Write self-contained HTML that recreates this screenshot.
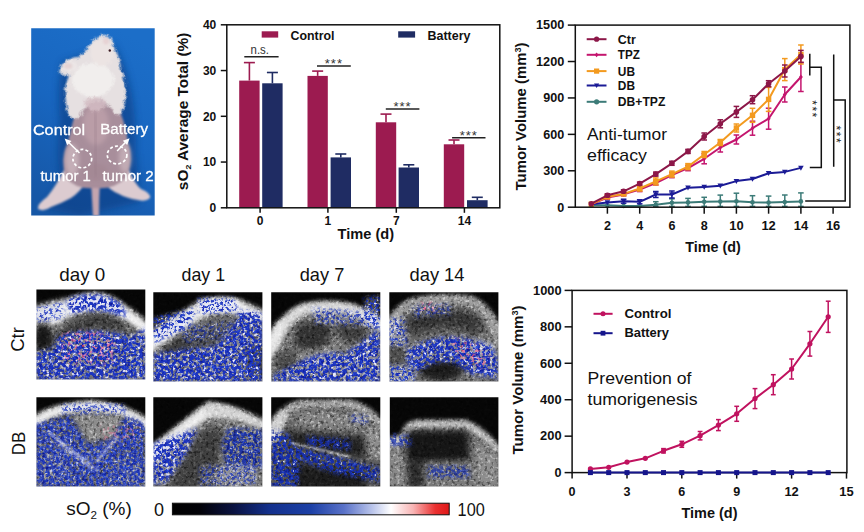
<!DOCTYPE html>
<html><head><meta charset="utf-8"><title>Figure</title>
<style>html,body{margin:0;padding:0;background:#fff}svg{display:block}text{font-family:"Liberation Sans",Arial,sans-serif}</style></head><body>
<svg width="864" height="532" viewBox="0 0 864 532">
<rect width="864" height="532" fill="#fff"/>
<defs>
<filter id="b1" x="-30%" y="-30%" width="160%" height="160%"><feGaussianBlur stdDeviation="1.2"/></filter>
<filter id="b2" x="-30%" y="-30%" width="160%" height="160%"><feGaussianBlur stdDeviation="2.2"/></filter>
<filter id="b3" x="-40%" y="-40%" width="180%" height="180%"><feGaussianBlur stdDeviation="3.5"/></filter>
<filter id="b5" x="-50%" y="-50%" width="200%" height="200%"><feGaussianBlur stdDeviation="5.5"/></filter>
<filter id="spk" x="-15%" y="-15%" width="130%" height="130%" color-interpolation-filters="sRGB">
 <feGaussianBlur in="SourceAlpha" stdDeviation="2.2" result="m"/>
 <feTurbulence type="fractalNoise" baseFrequency="0.3" numOctaves="2" seed="4" result="n"/>
 <feColorMatrix in="n" type="matrix" values="0 0 0 0 0.11  0 0 0 0 0.2  0 0 0 0 0.74  9 0 0 0 -3.7" result="bl0"/>
 <feColorMatrix in="n" type="matrix" values="0 0 0 0 0.92  0 0 0 0 0.92  0 0 0 0 1  0 5 0 0 -2.9" result="wh0"/>
 <feFlood flood-color="#aab2e4" flood-opacity="0.3" result="fl"/>
 <feMerge result="mm0"><feMergeNode in="fl"/><feMergeNode in="bl0"/><feMergeNode in="wh0"/></feMerge>
 <feGaussianBlur in="mm0" stdDeviation="0.5" result="mm"/>
 <feComposite in="mm" in2="m" operator="in"/>
</filter>
<filter id="spk2" x="-15%" y="-15%" width="130%" height="130%" color-interpolation-filters="sRGB">
 <feGaussianBlur in="SourceAlpha" stdDeviation="2.2" result="m"/>
 <feTurbulence type="fractalNoise" baseFrequency="0.34" numOctaves="2" seed="11" result="n"/>
 <feColorMatrix in="n" type="matrix" values="0 0 0 0 0.12  0 0 0 0 0.22  0 0 0 0 0.76  9 0 0 0 -4.3" result="bl0"/>
 <feColorMatrix in="n" type="matrix" values="0 0 0 0 0.92  0 0 0 0 0.92  0 0 0 0 1  0 5 0 0 -2.85" result="wh0"/>
 <feFlood flood-color="#c8cdee" flood-opacity="0.35" result="fl"/>
 <feMerge result="mm0"><feMergeNode in="fl"/><feMergeNode in="bl0"/><feMergeNode in="wh0"/></feMerge>
 <feGaussianBlur in="mm0" stdDeviation="0.5" result="mm"/>
 <feComposite in="mm" in2="m" operator="in"/>
</filter>
<filter id="spk3" x="-15%" y="-15%" width="130%" height="130%" color-interpolation-filters="sRGB">
 <feGaussianBlur in="SourceAlpha" stdDeviation="2" result="m"/>
 <feTurbulence type="fractalNoise" baseFrequency="0.3" numOctaves="2" seed="17" result="n"/>
 <feColorMatrix in="n" type="matrix" values="0 0 0 0 0.09  0 0 0 0 0.18  0 0 0 0 0.66  7 0 0 0 -2.7" result="bl0"/>
 <feColorMatrix in="n" type="matrix" values="0 0 0 0 0.85  0 0 0 0 0.88  0 0 0 0 1  0 5 0 0 -3.3" result="wh0"/>
 <feMerge result="mm0"><feMergeNode in="bl0"/><feMergeNode in="wh0"/></feMerge>
 <feGaussianBlur in="mm0" stdDeviation="0.4" result="mm"/>
 <feComposite in="mm" in2="m" operator="in"/>
</filter>
<filter id="spkp" x="-15%" y="-15%" width="130%" height="130%" color-interpolation-filters="sRGB">
 <feGaussianBlur in="SourceAlpha" stdDeviation="2" result="m"/>
 <feTurbulence type="fractalNoise" baseFrequency="0.28" numOctaves="2" seed="23" result="n"/>
 <feColorMatrix in="n" type="matrix" values="0 0 0 0 0.96  0 0 0 0 0.50  0 0 0 0 0.62  0 0 9 0 -4.9" result="pk0"/>
 <feGaussianBlur in="pk0" stdDeviation="0.4" result="pk"/>
 <feComposite in="pk" in2="m" operator="in"/>
</filter>
<filter id="grain" x="0" y="0" width="100%" height="100%" color-interpolation-filters="sRGB">
 <feTurbulence type="fractalNoise" baseFrequency="0.33" numOctaves="2" seed="8" result="n"/>
 <feColorMatrix in="n" type="matrix" values="0 0 0 0 1  0 0 0 0 1  0 0 0 0 1  4 0 0 0 -2.05" result="w"/>
 <feColorMatrix in="n" type="matrix" values="0 0 0 0 0  0 0 0 0 0  0 0 0 0 0  0 4 0 0 -2.05" result="k"/>
 <feMerge result="mm0"><feMergeNode in="w"/><feMergeNode in="k"/></feMerge>
 <feGaussianBlur in="mm0" stdDeviation="0.4" result="mm"/>
 <feComposite in="mm" in2="SourceAlpha" operator="in"/>
</filter>
</defs>
<g id="photo">
<clipPath id="pc"><rect x="31.2" y="28.2" width="123.5" height="187.3"/></clipPath>
<linearGradient id="pbg" x1="0.7" y1="0" x2="0.3" y2="1"><stop offset="0" stop-color="#1c6ec8"/><stop offset="0.5" stop-color="#1866c0"/><stop offset="1" stop-color="#1657a6"/></linearGradient>
<filter id="pb1" x="-20%" y="-20%" width="140%" height="140%"><feGaussianBlur stdDeviation="1.3"/></filter>
<filter id="pb2" x="-30%" y="-30%" width="160%" height="160%"><feGaussianBlur stdDeviation="3.5"/></filter>
<filter id="pb0" x="-20%" y="-20%" width="140%" height="140%"><feGaussianBlur stdDeviation="0.35"/></filter>
<filter id="fur" x="-20%" y="-20%" width="140%" height="140%"><feGaussianBlur stdDeviation="0.9" result="b"/><feTurbulence type="fractalNoise" baseFrequency="0.22" numOctaves="2" seed="5" result="t"/><feDisplacementMap in="b" in2="t" scale="5" xChannelSelector="R" yChannelSelector="G"/></filter>
<filter id="pb15" x="-30%" y="-30%" width="160%" height="160%"><feGaussianBlur stdDeviation="2.2"/></filter>
<g clip-path="url(#pc)">
<rect x="31" y="28" width="124" height="188" fill="url(#pbg)"/>
<g filter="url(#pb2)" opacity="0.6">
<path d="M62,62 Q56,92 60,122 Q56,150 60,180 L44,208 L80,216 L140,202 L136,150 Q136,110 130,85 Q124,60 114,44 Z" fill="#0d3c82"/>
</g>
<g filter="url(#pb1)">
<path d="M64,170 Q56,186 47,197 Q37,204 38,209 Q44,212 51,207 Q62,203 71,198 Q80,192 86,182 Z" fill="#dccbd0"/>
<path d="M129,170 Q134,183 141,189 Q151,193 150,198 Q146,202 138,200 Q126,198 119,194 Q109,190 104,182 Z" fill="#dccbd0"/>
<path d="M91,180 Q92,200 93,216 L99,216 Q99,198 100,180 Z" fill="#c4a5ae"/>
<path d="M80,100 Q72,122 68,142 Q60,160 66,178 Q76,190 95,188 Q114,190 126,178 Q134,160 128,142 Q125,120 115,100 Z" fill="#a88e9b"/>
</g>
<g filter="url(#pb15)">
<ellipse cx="96" cy="125" rx="13" ry="20" fill="#bb9fa9" opacity="0.9"/>
<ellipse cx="72" cy="160" rx="7" ry="16" fill="#c9b4bc" opacity="0.85"/>
<ellipse cx="125" cy="158" rx="6" ry="15" fill="#c7b0b8" opacity="0.85"/>
<ellipse cx="96" cy="172" rx="12" ry="9" fill="#a48894" opacity="0.8"/>
</g>
<g filter="url(#fur)">
<path d="M105,35 Q111,36 114,46 Q120,58 121,70 Q127,84 125,100 Q123,118 115,114 Q108,100 97,101 Q86,102 79,118 Q69,124 66,104 Q63,86 69,76 Q65,74 60,74 Q58,70 63,64 Q69,57 79,57 Q87,50 92,42 Q98,34 105,35 Z" fill="#e6e0e1"/>
<ellipse cx="93" cy="80" rx="21" ry="17" fill="#f1eeed"/>
<ellipse cx="102" cy="53" rx="11" ry="13" fill="#ece4e3"/>
<ellipse cx="70" cy="66" rx="7" ry="5" fill="#ece6e6"/>
<ellipse cx="95" cy="104" rx="11" ry="7" fill="#d3bcc3" opacity="0.85"/>
</g>
<circle cx="109.8" cy="50.5" r="1.2" fill="#3a1a22"/>
<ellipse cx="68" cy="66" rx="4.5" ry="3" fill="#e2cfd0" opacity="0.8" filter="url(#pb1)"/>
<ellipse cx="106" cy="41" rx="3" ry="3.5" fill="#e6cfd0" opacity="0.8" filter="url(#pb1)"/>
<path d="M95,112 Q96,140 96,176" stroke="#967a88" stroke-width="3" fill="none" opacity="0.5" filter="url(#pb15)"/>
</g>
<g filter="url(#pb0)">
<ellipse cx="82.3" cy="158.6" rx="9.4" ry="9.2" fill="none" stroke="#fff" stroke-width="1.7" stroke-dasharray="3 2.2"/>
<ellipse cx="117.1" cy="155" rx="9.8" ry="8.9" fill="none" stroke="#fff" stroke-width="1.7" stroke-dasharray="3 2.2"/>
<path d="M79.5,153 L67.5,141.3" stroke="#fff" stroke-width="1.5" fill="none"/><path d="M64.6,138.6 L71.5,141 L67.2,145.2Z" fill="#fff"/>
<path d="M117.1,151 L126.8,141" stroke="#fff" stroke-width="1.5" fill="none"/><path d="M129.6,138.2 L127.2,145 L122.8,140.7Z" fill="#fff"/>
<text x="32.9" y="135" font-size="15.5" fill="#fff" stroke="#fff" stroke-width="0.3" textLength="52.3" lengthAdjust="spacingAndGlyphs">Control</text>
<text x="100.2" y="133.6" font-size="15.5" fill="#fff" stroke="#fff" stroke-width="0.3" textLength="47.9" lengthAdjust="spacingAndGlyphs">Battery</text>
<text x="40.4" y="181.1" font-size="15.5" fill="#fff" stroke="#fff" stroke-width="0.3" textLength="50.4" lengthAdjust="spacingAndGlyphs">tumor 1</text>
<text x="102.4" y="181.1" font-size="15.5" fill="#fff" stroke="#fff" stroke-width="0.3" textLength="51.4" lengthAdjust="spacingAndGlyphs">tumor 2</text>
</g>
</g>
<g id="barchart">
<rect x="239.2" y="80.6" width="20.4" height="127.2" fill="#9c1b50"/>
<line x1="249.4" y1="80.6" x2="249.4" y2="62.6" stroke="#9c1b50" stroke-width="1.6" />
<line x1="243.9" y1="62.6" x2="254.9" y2="62.6" stroke="#9c1b50" stroke-width="1.6" />
<rect x="262.2" y="83.3" width="20.4" height="124.5" fill="#1f2c63"/>
<line x1="272.4" y1="83.3" x2="272.4" y2="72.5" stroke="#1f2c63" stroke-width="1.6" />
<line x1="266.9" y1="72.5" x2="277.9" y2="72.5" stroke="#1f2c63" stroke-width="1.6" />
<rect x="307.5" y="75.9" width="20.3" height="131.9" fill="#9c1b50"/>
<line x1="317.65" y1="75.9" x2="317.65" y2="71.1" stroke="#9c1b50" stroke-width="1.6" />
<line x1="312.15" y1="71.1" x2="323.15" y2="71.1" stroke="#9c1b50" stroke-width="1.6" />
<rect x="330.6" y="157.4" width="20.4" height="50.4" fill="#1f2c63"/>
<line x1="340.8" y1="157.4" x2="340.8" y2="154.0" stroke="#1f2c63" stroke-width="1.6" />
<line x1="335.3" y1="154.0" x2="346.3" y2="154.0" stroke="#1f2c63" stroke-width="1.6" />
<rect x="375.8" y="122.3" width="20.4" height="85.5" fill="#9c1b50"/>
<line x1="386.0" y1="122.3" x2="386.0" y2="114.1" stroke="#9c1b50" stroke-width="1.6" />
<line x1="380.5" y1="114.1" x2="391.5" y2="114.1" stroke="#9c1b50" stroke-width="1.6" />
<rect x="398.6" y="167.5" width="20.4" height="40.3" fill="#1f2c63"/>
<line x1="408.8" y1="167.5" x2="408.8" y2="164.8" stroke="#1f2c63" stroke-width="1.6" />
<line x1="403.3" y1="164.8" x2="414.3" y2="164.8" stroke="#1f2c63" stroke-width="1.6" />
<rect x="443.8" y="144.3" width="20.4" height="63.5" fill="#9c1b50"/>
<line x1="454.0" y1="144.3" x2="454.0" y2="140.0" stroke="#9c1b50" stroke-width="1.6" />
<line x1="448.5" y1="140.0" x2="459.5" y2="140.0" stroke="#9c1b50" stroke-width="1.6" />
<rect x="467.0" y="200.2" width="20.6" height="7.6" fill="#1f2c63"/>
<line x1="477.3" y1="200.2" x2="477.3" y2="197.3" stroke="#1f2c63" stroke-width="1.6" />
<line x1="471.8" y1="197.3" x2="482.8" y2="197.3" stroke="#1f2c63" stroke-width="1.6" />
<rect x="226.8" y="24.8" width="273.0" height="183.0" fill="none" stroke="#111" stroke-width="1.5"/>
<line x1="220.8" y1="207.8" x2="226.8" y2="207.8" stroke="#111" stroke-width="1.5" />
<text x="216.3" y="212.10000000000002" font-size="12" font-weight="bold" text-anchor="end" fill="#111" >0</text>
<line x1="220.8" y1="162.05" x2="226.8" y2="162.05" stroke="#111" stroke-width="1.5" />
<text x="216.3" y="166.35000000000002" font-size="12" font-weight="bold" text-anchor="end" fill="#111" >10</text>
<line x1="220.8" y1="116.30000000000001" x2="226.8" y2="116.30000000000001" stroke="#111" stroke-width="1.5" />
<text x="216.3" y="120.60000000000001" font-size="12" font-weight="bold" text-anchor="end" fill="#111" >20</text>
<line x1="220.8" y1="70.55000000000001" x2="226.8" y2="70.55000000000001" stroke="#111" stroke-width="1.5" />
<text x="216.3" y="74.85000000000001" font-size="12" font-weight="bold" text-anchor="end" fill="#111" >30</text>
<line x1="220.8" y1="24.80000000000001" x2="226.8" y2="24.80000000000001" stroke="#111" stroke-width="1.5" />
<text x="216.3" y="29.100000000000012" font-size="12" font-weight="bold" text-anchor="end" fill="#111" >40</text>
<line x1="260.1" y1="207.8" x2="260.1" y2="212.8" stroke="#111" stroke-width="1.5" />
<text x="260.1" y="224.7" font-size="12" font-weight="bold" text-anchor="middle" fill="#111" >0</text>
<line x1="327.9" y1="207.8" x2="327.9" y2="212.8" stroke="#111" stroke-width="1.5" />
<text x="327.9" y="224.7" font-size="12" font-weight="bold" text-anchor="middle" fill="#111" >1</text>
<line x1="396.3" y1="207.8" x2="396.3" y2="212.8" stroke="#111" stroke-width="1.5" />
<text x="396.3" y="224.7" font-size="12" font-weight="bold" text-anchor="middle" fill="#111" >7</text>
<line x1="464.4" y1="207.8" x2="464.4" y2="212.8" stroke="#111" stroke-width="1.5" />
<text x="464.4" y="224.7" font-size="12" font-weight="bold" text-anchor="middle" fill="#111" >14</text>
<text x="365.8" y="238.9" font-size="14.5" font-weight="bold" text-anchor="middle" fill="#111" textLength="56.5" lengthAdjust="spacingAndGlyphs" >Time (d)</text>
<text transform="translate(188.2,111.4) rotate(-90)" font-size="14" font-weight="bold" text-anchor="middle" fill="#111" textLength="157.5" lengthAdjust="spacingAndGlyphs">sO<tspan font-size="8" dy="3">2</tspan><tspan dy="-3"> Average Total (%)</tspan></text>
<rect x="261.7" y="31.3" width="16.5" height="6.3" fill="#9c1b50"/>
<text x="290.5" y="39.6" font-size="12" font-weight="bold" text-anchor="start" fill="#111" textLength="44" lengthAdjust="spacingAndGlyphs" >Control</text>
<rect x="398.2" y="31.3" width="16.9" height="6.3" fill="#1f2c63"/>
<text x="427.5" y="39.6" font-size="12" font-weight="bold" text-anchor="start" fill="#111" textLength="43" lengthAdjust="spacingAndGlyphs" >Battery</text>
<line x1="244.3" y1="56.7" x2="278.6" y2="56.7" stroke="#222" stroke-width="1.5" />
<text x="259.8" y="53.5" font-size="12.5"  text-anchor="middle" fill="#333" textLength="18.4" lengthAdjust="spacingAndGlyphs" >n.s.</text>
<line x1="317" y1="66.0" x2="350.8" y2="66.0" stroke="#222" stroke-width="1.5" />
<text x="333.9" y="67.9" font-size="13" text-anchor="middle" fill="#333" letter-spacing="1">***</text>
<line x1="385.8" y1="109.0" x2="419.4" y2="109.0" stroke="#222" stroke-width="1.5" />
<text x="402.6" y="110.9" font-size="13" text-anchor="middle" fill="#333" letter-spacing="1">***</text>
<line x1="452.1" y1="137.7" x2="485.5" y2="137.7" stroke="#222" stroke-width="1.5" />
<text x="468.8" y="139.6" font-size="13" text-anchor="middle" fill="#333" letter-spacing="1">***</text>
</g>
<g id="line1">
<line x1="655.8" y1="201.7" x2="655.8" y2="206.4" stroke="#3c7b78" stroke-width="1.5" />
<line x1="653.0" y1="201.7" x2="658.6" y2="201.7" stroke="#3c7b78" stroke-width="1.5" />
<line x1="653.0" y1="206.4" x2="658.6" y2="206.4" stroke="#3c7b78" stroke-width="1.5" />
<line x1="671.9" y1="198.8" x2="671.9" y2="206.4" stroke="#3c7b78" stroke-width="1.5" />
<line x1="669.1" y1="198.8" x2="674.7" y2="198.8" stroke="#3c7b78" stroke-width="1.5" />
<line x1="669.1" y1="206.4" x2="674.7" y2="206.4" stroke="#3c7b78" stroke-width="1.5" />
<line x1="688.0" y1="198.4" x2="688.0" y2="206.4" stroke="#3c7b78" stroke-width="1.5" />
<line x1="685.2" y1="198.4" x2="690.8" y2="198.4" stroke="#3c7b78" stroke-width="1.5" />
<line x1="685.2" y1="206.4" x2="690.8" y2="206.4" stroke="#3c7b78" stroke-width="1.5" />
<line x1="704.2" y1="197.3" x2="704.2" y2="206.3" stroke="#3c7b78" stroke-width="1.5" />
<line x1="701.4" y1="197.3" x2="707.0" y2="197.3" stroke="#3c7b78" stroke-width="1.5" />
<line x1="701.4" y1="206.3" x2="707.0" y2="206.3" stroke="#3c7b78" stroke-width="1.5" />
<line x1="720.3" y1="195.1" x2="720.3" y2="206.4" stroke="#3c7b78" stroke-width="1.5" />
<line x1="717.5" y1="195.1" x2="723.1" y2="195.1" stroke="#3c7b78" stroke-width="1.5" />
<line x1="717.5" y1="206.4" x2="723.1" y2="206.4" stroke="#3c7b78" stroke-width="1.5" />
<line x1="736.4" y1="193.2" x2="736.4" y2="206.4" stroke="#3c7b78" stroke-width="1.5" />
<line x1="733.6" y1="193.2" x2="739.2" y2="193.2" stroke="#3c7b78" stroke-width="1.5" />
<line x1="733.6" y1="206.4" x2="739.2" y2="206.4" stroke="#3c7b78" stroke-width="1.5" />
<line x1="752.5" y1="195.7" x2="752.5" y2="206.4" stroke="#3c7b78" stroke-width="1.5" />
<line x1="749.7" y1="195.7" x2="755.3" y2="195.7" stroke="#3c7b78" stroke-width="1.5" />
<line x1="749.7" y1="206.4" x2="755.3" y2="206.4" stroke="#3c7b78" stroke-width="1.5" />
<line x1="768.6" y1="196.1" x2="768.6" y2="206.4" stroke="#3c7b78" stroke-width="1.5" />
<line x1="765.8" y1="196.1" x2="771.4" y2="196.1" stroke="#3c7b78" stroke-width="1.5" />
<line x1="765.8" y1="206.4" x2="771.4" y2="206.4" stroke="#3c7b78" stroke-width="1.5" />
<line x1="784.8" y1="195.0" x2="784.8" y2="206.4" stroke="#3c7b78" stroke-width="1.5" />
<line x1="782.0" y1="195.0" x2="787.6" y2="195.0" stroke="#3c7b78" stroke-width="1.5" />
<line x1="782.0" y1="206.4" x2="787.6" y2="206.4" stroke="#3c7b78" stroke-width="1.5" />
<line x1="800.9" y1="192.9" x2="800.9" y2="206.4" stroke="#3c7b78" stroke-width="1.5" />
<line x1="798.1" y1="192.9" x2="803.7" y2="192.9" stroke="#3c7b78" stroke-width="1.5" />
<line x1="798.1" y1="206.4" x2="803.7" y2="206.4" stroke="#3c7b78" stroke-width="1.5" />
<polyline points="591.3,205.3 607.4,205.3 623.6,206.0 639.7,206.0 655.8,204.7 671.9,202.8 688.0,202.4 704.2,201.8 720.3,201.6 736.4,201.2 752.5,202.2 768.6,202.6 784.8,202.0 800.9,201.4" fill="none" stroke="#3c7b78" stroke-width="2.0" stroke-linejoin="round"/>
<circle cx="591.3" cy="205.3" r="2.3" fill="#3c7b78"/>
<circle cx="607.4" cy="205.3" r="2.3" fill="#3c7b78"/>
<circle cx="623.6" cy="206.0" r="2.3" fill="#3c7b78"/>
<circle cx="639.7" cy="206.0" r="2.3" fill="#3c7b78"/>
<circle cx="655.8" cy="204.7" r="2.3" fill="#3c7b78"/>
<circle cx="671.9" cy="202.8" r="2.3" fill="#3c7b78"/>
<circle cx="688.0" cy="202.4" r="2.3" fill="#3c7b78"/>
<circle cx="704.2" cy="201.8" r="2.3" fill="#3c7b78"/>
<circle cx="720.3" cy="201.6" r="2.3" fill="#3c7b78"/>
<circle cx="736.4" cy="201.2" r="2.3" fill="#3c7b78"/>
<circle cx="752.5" cy="202.2" r="2.3" fill="#3c7b78"/>
<circle cx="768.6" cy="202.6" r="2.3" fill="#3c7b78"/>
<circle cx="784.8" cy="202.0" r="2.3" fill="#3c7b78"/>
<circle cx="800.9" cy="201.4" r="2.3" fill="#3c7b78"/>
<line x1="623.6" y1="199.2" x2="623.6" y2="203.2" stroke="#1b1b96" stroke-width="1.5" />
<line x1="620.8" y1="199.2" x2="626.4" y2="199.2" stroke="#1b1b96" stroke-width="1.5" />
<line x1="620.8" y1="203.2" x2="626.4" y2="203.2" stroke="#1b1b96" stroke-width="1.5" />
<line x1="639.7" y1="199.8" x2="639.7" y2="203.8" stroke="#1b1b96" stroke-width="1.5" />
<line x1="636.9" y1="199.8" x2="642.5" y2="199.8" stroke="#1b1b96" stroke-width="1.5" />
<line x1="636.9" y1="203.8" x2="642.5" y2="203.8" stroke="#1b1b96" stroke-width="1.5" />
<line x1="655.8" y1="191.5" x2="655.8" y2="197.5" stroke="#1b1b96" stroke-width="1.5" />
<line x1="653.0" y1="191.5" x2="658.6" y2="191.5" stroke="#1b1b96" stroke-width="1.5" />
<line x1="653.0" y1="197.5" x2="658.6" y2="197.5" stroke="#1b1b96" stroke-width="1.5" />
<line x1="671.9" y1="191.0" x2="671.9" y2="198.0" stroke="#1b1b96" stroke-width="1.5" />
<line x1="669.1" y1="191.0" x2="674.7" y2="191.0" stroke="#1b1b96" stroke-width="1.5" />
<line x1="669.1" y1="198.0" x2="674.7" y2="198.0" stroke="#1b1b96" stroke-width="1.5" />
<polyline points="591.3,204.3 607.4,202.4 623.6,201.2 639.7,201.8 655.8,194.5 671.9,194.5 688.0,187.7 704.2,186.9 720.3,185.8 736.4,181.1 752.5,179.0 768.6,173.2 784.8,171.9 800.9,167.9" fill="none" stroke="#1b1b96" stroke-width="2.0" stroke-linejoin="round"/>
<path d="M588.5,202.1 L594.1,202.1 L591.3,207.1Z" fill="#1b1b96"/>
<path d="M604.6,200.2 L610.2,200.2 L607.4,205.2Z" fill="#1b1b96"/>
<path d="M620.8,199.0 L626.4,199.0 L623.6,204.0Z" fill="#1b1b96"/>
<path d="M636.9,199.6 L642.5,199.6 L639.7,204.6Z" fill="#1b1b96"/>
<path d="M653.0,192.3 L658.6,192.3 L655.8,197.3Z" fill="#1b1b96"/>
<path d="M669.1,192.3 L674.7,192.3 L671.9,197.3Z" fill="#1b1b96"/>
<path d="M685.2,185.5 L690.8,185.5 L688.0,190.5Z" fill="#1b1b96"/>
<path d="M701.4,184.7 L707.0,184.7 L704.2,189.7Z" fill="#1b1b96"/>
<path d="M717.5,183.6 L723.1,183.6 L720.3,188.6Z" fill="#1b1b96"/>
<path d="M733.6,178.9 L739.2,178.9 L736.4,183.9Z" fill="#1b1b96"/>
<path d="M749.7,176.8 L755.3,176.8 L752.5,181.8Z" fill="#1b1b96"/>
<path d="M765.8,171.0 L771.4,171.0 L768.6,176.0Z" fill="#1b1b96"/>
<path d="M782.0,169.7 L787.6,169.7 L784.8,174.7Z" fill="#1b1b96"/>
<path d="M798.1,165.7 L803.7,165.7 L800.9,170.7Z" fill="#1b1b96"/>
<line x1="607.4" y1="196.1" x2="607.4" y2="199.1" stroke="#c4156e" stroke-width="1.5" />
<line x1="604.6" y1="196.1" x2="610.2" y2="196.1" stroke="#c4156e" stroke-width="1.5" />
<line x1="604.6" y1="199.1" x2="610.2" y2="199.1" stroke="#c4156e" stroke-width="1.5" />
<line x1="623.6" y1="192.9" x2="623.6" y2="195.9" stroke="#c4156e" stroke-width="1.5" />
<line x1="620.8" y1="192.9" x2="626.4" y2="192.9" stroke="#c4156e" stroke-width="1.5" />
<line x1="620.8" y1="195.9" x2="626.4" y2="195.9" stroke="#c4156e" stroke-width="1.5" />
<line x1="639.7" y1="187.6" x2="639.7" y2="191.6" stroke="#c4156e" stroke-width="1.5" />
<line x1="636.9" y1="187.6" x2="642.5" y2="187.6" stroke="#c4156e" stroke-width="1.5" />
<line x1="636.9" y1="191.6" x2="642.5" y2="191.6" stroke="#c4156e" stroke-width="1.5" />
<line x1="655.8" y1="181.0" x2="655.8" y2="185.0" stroke="#c4156e" stroke-width="1.5" />
<line x1="653.0" y1="181.0" x2="658.6" y2="181.0" stroke="#c4156e" stroke-width="1.5" />
<line x1="653.0" y1="185.0" x2="658.6" y2="185.0" stroke="#c4156e" stroke-width="1.5" />
<line x1="671.9" y1="172.7" x2="671.9" y2="177.7" stroke="#c4156e" stroke-width="1.5" />
<line x1="669.1" y1="172.7" x2="674.7" y2="172.7" stroke="#c4156e" stroke-width="1.5" />
<line x1="669.1" y1="177.7" x2="674.7" y2="177.7" stroke="#c4156e" stroke-width="1.5" />
<line x1="688.0" y1="165.7" x2="688.0" y2="170.7" stroke="#c4156e" stroke-width="1.5" />
<line x1="685.2" y1="165.7" x2="690.8" y2="165.7" stroke="#c4156e" stroke-width="1.5" />
<line x1="685.2" y1="170.7" x2="690.8" y2="170.7" stroke="#c4156e" stroke-width="1.5" />
<line x1="704.2" y1="153.8" x2="704.2" y2="163.8" stroke="#c4156e" stroke-width="1.5" />
<line x1="701.4" y1="153.8" x2="707.0" y2="153.8" stroke="#c4156e" stroke-width="1.5" />
<line x1="701.4" y1="163.8" x2="707.0" y2="163.8" stroke="#c4156e" stroke-width="1.5" />
<line x1="720.3" y1="143.0" x2="720.3" y2="152.0" stroke="#c4156e" stroke-width="1.5" />
<line x1="717.5" y1="143.0" x2="723.1" y2="143.0" stroke="#c4156e" stroke-width="1.5" />
<line x1="717.5" y1="152.0" x2="723.1" y2="152.0" stroke="#c4156e" stroke-width="1.5" />
<line x1="736.4" y1="135.0" x2="736.4" y2="144.0" stroke="#c4156e" stroke-width="1.5" />
<line x1="733.6" y1="135.0" x2="739.2" y2="135.0" stroke="#c4156e" stroke-width="1.5" />
<line x1="733.6" y1="144.0" x2="739.2" y2="144.0" stroke="#c4156e" stroke-width="1.5" />
<line x1="752.5" y1="121.2" x2="752.5" y2="135.2" stroke="#c4156e" stroke-width="1.5" />
<line x1="749.7" y1="121.2" x2="755.3" y2="121.2" stroke="#c4156e" stroke-width="1.5" />
<line x1="749.7" y1="135.2" x2="755.3" y2="135.2" stroke="#c4156e" stroke-width="1.5" />
<line x1="768.6" y1="108.2" x2="768.6" y2="129.2" stroke="#c4156e" stroke-width="1.5" />
<line x1="765.8" y1="108.2" x2="771.4" y2="108.2" stroke="#c4156e" stroke-width="1.5" />
<line x1="765.8" y1="129.2" x2="771.4" y2="129.2" stroke="#c4156e" stroke-width="1.5" />
<line x1="784.8" y1="87.0" x2="784.8" y2="102.0" stroke="#c4156e" stroke-width="1.5" />
<line x1="782.0" y1="87.0" x2="787.6" y2="87.0" stroke="#c4156e" stroke-width="1.5" />
<line x1="782.0" y1="102.0" x2="787.6" y2="102.0" stroke="#c4156e" stroke-width="1.5" />
<line x1="800.9" y1="62.5" x2="800.9" y2="91.5" stroke="#c4156e" stroke-width="1.5" />
<line x1="798.1" y1="62.5" x2="803.7" y2="62.5" stroke="#c4156e" stroke-width="1.5" />
<line x1="798.1" y1="91.5" x2="803.7" y2="91.5" stroke="#c4156e" stroke-width="1.5" />
<polyline points="591.3,204.4 607.4,197.6 623.6,194.4 639.7,189.6 655.8,183.0 671.9,175.2 688.0,168.2 704.2,158.8 720.3,147.5 736.4,139.5 752.5,128.2 768.6,118.7 784.8,94.5 800.9,77.0" fill="none" stroke="#c4156e" stroke-width="2.0" stroke-linejoin="round"/>
<path d="M591.3,202.0 L593.2,204.4 L591.3,206.8 L589.4,204.4Z" fill="#c4156e"/>
<path d="M607.4,195.2 L609.4,197.6 L607.4,200.0 L605.5,197.6Z" fill="#c4156e"/>
<path d="M623.6,192.0 L625.5,194.4 L623.6,196.8 L621.6,194.4Z" fill="#c4156e"/>
<path d="M639.7,187.2 L641.6,189.6 L639.7,192.0 L637.8,189.6Z" fill="#c4156e"/>
<path d="M655.8,180.6 L657.7,183.0 L655.8,185.4 L653.9,183.0Z" fill="#c4156e"/>
<path d="M671.9,172.8 L673.8,175.2 L671.9,177.6 L670.0,175.2Z" fill="#c4156e"/>
<path d="M688.0,165.8 L690.0,168.2 L688.0,170.6 L686.1,168.2Z" fill="#c4156e"/>
<path d="M704.2,156.4 L706.1,158.8 L704.2,161.2 L702.2,158.8Z" fill="#c4156e"/>
<path d="M720.3,145.1 L722.2,147.5 L720.3,149.9 L718.4,147.5Z" fill="#c4156e"/>
<path d="M736.4,137.1 L738.3,139.5 L736.4,141.9 L734.5,139.5Z" fill="#c4156e"/>
<path d="M752.5,125.8 L754.4,128.2 L752.5,130.6 L750.6,128.2Z" fill="#c4156e"/>
<path d="M768.6,116.3 L770.6,118.7 L768.6,121.1 L766.7,118.7Z" fill="#c4156e"/>
<path d="M784.8,92.1 L786.7,94.5 L784.8,96.9 L782.8,94.5Z" fill="#c4156e"/>
<path d="M800.9,74.6 L802.8,77.0 L800.9,79.4 L799.0,77.0Z" fill="#c4156e"/>
<line x1="607.4" y1="195.3" x2="607.4" y2="198.3" stroke="#f39a1f" stroke-width="1.5" />
<line x1="604.6" y1="195.3" x2="610.2" y2="195.3" stroke="#f39a1f" stroke-width="1.5" />
<line x1="604.6" y1="198.3" x2="610.2" y2="198.3" stroke="#f39a1f" stroke-width="1.5" />
<line x1="623.6" y1="192.4" x2="623.6" y2="195.4" stroke="#f39a1f" stroke-width="1.5" />
<line x1="620.8" y1="192.4" x2="626.4" y2="192.4" stroke="#f39a1f" stroke-width="1.5" />
<line x1="620.8" y1="195.4" x2="626.4" y2="195.4" stroke="#f39a1f" stroke-width="1.5" />
<line x1="639.7" y1="186.0" x2="639.7" y2="191.0" stroke="#f39a1f" stroke-width="1.5" />
<line x1="636.9" y1="186.0" x2="642.5" y2="186.0" stroke="#f39a1f" stroke-width="1.5" />
<line x1="636.9" y1="191.0" x2="642.5" y2="191.0" stroke="#f39a1f" stroke-width="1.5" />
<line x1="655.8" y1="177.9" x2="655.8" y2="184.9" stroke="#f39a1f" stroke-width="1.5" />
<line x1="653.0" y1="177.9" x2="658.6" y2="177.9" stroke="#f39a1f" stroke-width="1.5" />
<line x1="653.0" y1="184.9" x2="658.6" y2="184.9" stroke="#f39a1f" stroke-width="1.5" />
<line x1="671.9" y1="171.1" x2="671.9" y2="177.1" stroke="#f39a1f" stroke-width="1.5" />
<line x1="669.1" y1="171.1" x2="674.7" y2="171.1" stroke="#f39a1f" stroke-width="1.5" />
<line x1="669.1" y1="177.1" x2="674.7" y2="177.1" stroke="#f39a1f" stroke-width="1.5" />
<line x1="688.0" y1="163.6" x2="688.0" y2="169.6" stroke="#f39a1f" stroke-width="1.5" />
<line x1="685.2" y1="163.6" x2="690.8" y2="163.6" stroke="#f39a1f" stroke-width="1.5" />
<line x1="685.2" y1="169.6" x2="690.8" y2="169.6" stroke="#f39a1f" stroke-width="1.5" />
<line x1="704.2" y1="151.5" x2="704.2" y2="157.5" stroke="#f39a1f" stroke-width="1.5" />
<line x1="701.4" y1="151.5" x2="707.0" y2="151.5" stroke="#f39a1f" stroke-width="1.5" />
<line x1="701.4" y1="157.5" x2="707.0" y2="157.5" stroke="#f39a1f" stroke-width="1.5" />
<line x1="720.3" y1="139.5" x2="720.3" y2="145.5" stroke="#f39a1f" stroke-width="1.5" />
<line x1="717.5" y1="139.5" x2="723.1" y2="139.5" stroke="#f39a1f" stroke-width="1.5" />
<line x1="717.5" y1="145.5" x2="723.1" y2="145.5" stroke="#f39a1f" stroke-width="1.5" />
<line x1="736.4" y1="124.0" x2="736.4" y2="132.0" stroke="#f39a1f" stroke-width="1.5" />
<line x1="733.6" y1="124.0" x2="739.2" y2="124.0" stroke="#f39a1f" stroke-width="1.5" />
<line x1="733.6" y1="132.0" x2="739.2" y2="132.0" stroke="#f39a1f" stroke-width="1.5" />
<line x1="752.5" y1="108.3" x2="752.5" y2="122.3" stroke="#f39a1f" stroke-width="1.5" />
<line x1="749.7" y1="108.3" x2="755.3" y2="108.3" stroke="#f39a1f" stroke-width="1.5" />
<line x1="749.7" y1="122.3" x2="755.3" y2="122.3" stroke="#f39a1f" stroke-width="1.5" />
<line x1="768.6" y1="87.4" x2="768.6" y2="111.4" stroke="#f39a1f" stroke-width="1.5" />
<line x1="765.8" y1="87.4" x2="771.4" y2="87.4" stroke="#f39a1f" stroke-width="1.5" />
<line x1="765.8" y1="111.4" x2="771.4" y2="111.4" stroke="#f39a1f" stroke-width="1.5" />
<line x1="784.8" y1="58.6" x2="784.8" y2="80.6" stroke="#f39a1f" stroke-width="1.5" />
<line x1="782.0" y1="58.6" x2="787.6" y2="58.6" stroke="#f39a1f" stroke-width="1.5" />
<line x1="782.0" y1="80.6" x2="787.6" y2="80.6" stroke="#f39a1f" stroke-width="1.5" />
<line x1="800.9" y1="45.0" x2="800.9" y2="64.0" stroke="#f39a1f" stroke-width="1.5" />
<line x1="798.1" y1="45.0" x2="803.7" y2="45.0" stroke="#f39a1f" stroke-width="1.5" />
<line x1="798.1" y1="64.0" x2="803.7" y2="64.0" stroke="#f39a1f" stroke-width="1.5" />
<polyline points="591.3,204.2 607.4,196.8 623.6,193.9 639.7,188.5 655.8,181.4 671.9,174.1 688.0,166.6 704.2,154.5 720.3,142.5 736.4,128.0 752.5,115.3 768.6,99.4 784.8,69.6 800.9,54.5" fill="none" stroke="#f39a1f" stroke-width="2.0" stroke-linejoin="round"/>
<rect x="588.6" y="201.5" width="5.4" height="5.4" fill="#f39a1f"/>
<rect x="604.7" y="194.1" width="5.4" height="5.4" fill="#f39a1f"/>
<rect x="620.9" y="191.2" width="5.4" height="5.4" fill="#f39a1f"/>
<rect x="637.0" y="185.8" width="5.4" height="5.4" fill="#f39a1f"/>
<rect x="653.1" y="178.7" width="5.4" height="5.4" fill="#f39a1f"/>
<rect x="669.2" y="171.4" width="5.4" height="5.4" fill="#f39a1f"/>
<rect x="685.3" y="163.9" width="5.4" height="5.4" fill="#f39a1f"/>
<rect x="701.5" y="151.8" width="5.4" height="5.4" fill="#f39a1f"/>
<rect x="717.6" y="139.8" width="5.4" height="5.4" fill="#f39a1f"/>
<rect x="733.7" y="125.3" width="5.4" height="5.4" fill="#f39a1f"/>
<rect x="749.8" y="112.6" width="5.4" height="5.4" fill="#f39a1f"/>
<rect x="765.9" y="96.7" width="5.4" height="5.4" fill="#f39a1f"/>
<rect x="782.1" y="66.9" width="5.4" height="5.4" fill="#f39a1f"/>
<rect x="798.2" y="51.8" width="5.4" height="5.4" fill="#f39a1f"/>
<line x1="607.4" y1="193.8" x2="607.4" y2="196.8" stroke="#8c1748" stroke-width="1.5" />
<line x1="604.6" y1="193.8" x2="610.2" y2="193.8" stroke="#8c1748" stroke-width="1.5" />
<line x1="604.6" y1="196.8" x2="610.2" y2="196.8" stroke="#8c1748" stroke-width="1.5" />
<line x1="623.6" y1="189.8" x2="623.6" y2="192.8" stroke="#8c1748" stroke-width="1.5" />
<line x1="620.8" y1="189.8" x2="626.4" y2="189.8" stroke="#8c1748" stroke-width="1.5" />
<line x1="620.8" y1="192.8" x2="626.4" y2="192.8" stroke="#8c1748" stroke-width="1.5" />
<line x1="639.7" y1="182.1" x2="639.7" y2="185.1" stroke="#8c1748" stroke-width="1.5" />
<line x1="636.9" y1="182.1" x2="642.5" y2="182.1" stroke="#8c1748" stroke-width="1.5" />
<line x1="636.9" y1="185.1" x2="642.5" y2="185.1" stroke="#8c1748" stroke-width="1.5" />
<line x1="655.8" y1="172.1" x2="655.8" y2="176.1" stroke="#8c1748" stroke-width="1.5" />
<line x1="653.0" y1="172.1" x2="658.6" y2="172.1" stroke="#8c1748" stroke-width="1.5" />
<line x1="653.0" y1="176.1" x2="658.6" y2="176.1" stroke="#8c1748" stroke-width="1.5" />
<line x1="671.9" y1="161.3" x2="671.9" y2="165.3" stroke="#8c1748" stroke-width="1.5" />
<line x1="669.1" y1="161.3" x2="674.7" y2="161.3" stroke="#8c1748" stroke-width="1.5" />
<line x1="669.1" y1="165.3" x2="674.7" y2="165.3" stroke="#8c1748" stroke-width="1.5" />
<line x1="688.0" y1="149.4" x2="688.0" y2="153.4" stroke="#8c1748" stroke-width="1.5" />
<line x1="685.2" y1="149.4" x2="690.8" y2="149.4" stroke="#8c1748" stroke-width="1.5" />
<line x1="685.2" y1="153.4" x2="690.8" y2="153.4" stroke="#8c1748" stroke-width="1.5" />
<line x1="704.2" y1="133.0" x2="704.2" y2="140.0" stroke="#8c1748" stroke-width="1.5" />
<line x1="701.4" y1="133.0" x2="707.0" y2="133.0" stroke="#8c1748" stroke-width="1.5" />
<line x1="701.4" y1="140.0" x2="707.0" y2="140.0" stroke="#8c1748" stroke-width="1.5" />
<line x1="720.3" y1="119.8" x2="720.3" y2="127.8" stroke="#8c1748" stroke-width="1.5" />
<line x1="717.5" y1="119.8" x2="723.1" y2="119.8" stroke="#8c1748" stroke-width="1.5" />
<line x1="717.5" y1="127.8" x2="723.1" y2="127.8" stroke="#8c1748" stroke-width="1.5" />
<line x1="736.4" y1="106.4" x2="736.4" y2="117.4" stroke="#8c1748" stroke-width="1.5" />
<line x1="733.6" y1="106.4" x2="739.2" y2="106.4" stroke="#8c1748" stroke-width="1.5" />
<line x1="733.6" y1="117.4" x2="739.2" y2="117.4" stroke="#8c1748" stroke-width="1.5" />
<line x1="752.5" y1="95.7" x2="752.5" y2="103.7" stroke="#8c1748" stroke-width="1.5" />
<line x1="749.7" y1="95.7" x2="755.3" y2="95.7" stroke="#8c1748" stroke-width="1.5" />
<line x1="749.7" y1="103.7" x2="755.3" y2="103.7" stroke="#8c1748" stroke-width="1.5" />
<line x1="768.6" y1="80.7" x2="768.6" y2="86.7" stroke="#8c1748" stroke-width="1.5" />
<line x1="765.8" y1="80.7" x2="771.4" y2="80.7" stroke="#8c1748" stroke-width="1.5" />
<line x1="765.8" y1="86.7" x2="771.4" y2="86.7" stroke="#8c1748" stroke-width="1.5" />
<line x1="784.8" y1="65.0" x2="784.8" y2="77.0" stroke="#8c1748" stroke-width="1.5" />
<line x1="782.0" y1="65.0" x2="787.6" y2="65.0" stroke="#8c1748" stroke-width="1.5" />
<line x1="782.0" y1="77.0" x2="787.6" y2="77.0" stroke="#8c1748" stroke-width="1.5" />
<line x1="800.9" y1="50.4" x2="800.9" y2="62.4" stroke="#8c1748" stroke-width="1.5" />
<line x1="798.1" y1="50.4" x2="803.7" y2="50.4" stroke="#8c1748" stroke-width="1.5" />
<line x1="798.1" y1="62.4" x2="803.7" y2="62.4" stroke="#8c1748" stroke-width="1.5" />
<polyline points="591.3,203.7 607.4,195.3 623.6,191.3 639.7,183.6 655.8,174.1 671.9,163.3 688.0,151.4 704.2,136.5 720.3,123.8 736.4,111.9 752.5,99.7 768.6,83.7 784.8,71.0 800.9,56.4" fill="none" stroke="#8c1748" stroke-width="2.0" stroke-linejoin="round"/>
<circle cx="591.3" cy="203.7" r="2.8" fill="#8c1748"/>
<circle cx="607.4" cy="195.3" r="2.8" fill="#8c1748"/>
<circle cx="623.6" cy="191.3" r="2.8" fill="#8c1748"/>
<circle cx="639.7" cy="183.6" r="2.8" fill="#8c1748"/>
<circle cx="655.8" cy="174.1" r="2.8" fill="#8c1748"/>
<circle cx="671.9" cy="163.3" r="2.8" fill="#8c1748"/>
<circle cx="688.0" cy="151.4" r="2.8" fill="#8c1748"/>
<circle cx="704.2" cy="136.5" r="2.8" fill="#8c1748"/>
<circle cx="720.3" cy="123.8" r="2.8" fill="#8c1748"/>
<circle cx="736.4" cy="111.9" r="2.8" fill="#8c1748"/>
<circle cx="752.5" cy="99.7" r="2.8" fill="#8c1748"/>
<circle cx="768.6" cy="83.7" r="2.8" fill="#8c1748"/>
<circle cx="784.8" cy="71.0" r="2.8" fill="#8c1748"/>
<circle cx="800.9" cy="56.4" r="2.8" fill="#8c1748"/>
<rect x="575.3" y="25.1" width="274.6" height="182.1" fill="none" stroke="#111" stroke-width="1.5"/>
<line x1="567.8" y1="207.2" x2="575.3" y2="207.2" stroke="#111" stroke-width="1.5" />
<text x="564.3" y="211.5" font-size="12" font-weight="bold" text-anchor="end" fill="#111" textLength="7" lengthAdjust="spacingAndGlyphs" >0</text>
<line x1="567.8" y1="170.77999999999997" x2="575.3" y2="170.77999999999997" stroke="#111" stroke-width="1.5" />
<text x="564.3" y="175.07999999999998" font-size="12" font-weight="bold" text-anchor="end" fill="#111" textLength="21" lengthAdjust="spacingAndGlyphs" >300</text>
<line x1="567.8" y1="134.35999999999999" x2="575.3" y2="134.35999999999999" stroke="#111" stroke-width="1.5" />
<text x="564.3" y="138.66" font-size="12" font-weight="bold" text-anchor="end" fill="#111" textLength="21" lengthAdjust="spacingAndGlyphs" >600</text>
<line x1="567.8" y1="97.93999999999998" x2="575.3" y2="97.93999999999998" stroke="#111" stroke-width="1.5" />
<text x="564.3" y="102.23999999999998" font-size="12" font-weight="bold" text-anchor="end" fill="#111" textLength="21" lengthAdjust="spacingAndGlyphs" >900</text>
<line x1="567.8" y1="61.51999999999998" x2="575.3" y2="61.51999999999998" stroke="#111" stroke-width="1.5" />
<text x="564.3" y="65.81999999999998" font-size="12" font-weight="bold" text-anchor="end" fill="#111" textLength="28.3" lengthAdjust="spacingAndGlyphs" >1200</text>
<line x1="567.8" y1="25.099999999999994" x2="575.3" y2="25.099999999999994" stroke="#111" stroke-width="1.5" />
<text x="564.3" y="29.399999999999995" font-size="12" font-weight="bold" text-anchor="end" fill="#111" textLength="28.3" lengthAdjust="spacingAndGlyphs" >1500</text>
<line x1="607.4" y1="207.2" x2="607.4" y2="213.7" stroke="#111" stroke-width="1.5" />
<text x="607.4" y="230.1" font-size="12" font-weight="bold" text-anchor="middle" fill="#111" textLength="7" lengthAdjust="spacingAndGlyphs" >2</text>
<line x1="639.7" y1="207.2" x2="639.7" y2="213.7" stroke="#111" stroke-width="1.5" />
<text x="639.7" y="230.1" font-size="12" font-weight="bold" text-anchor="middle" fill="#111" textLength="7" lengthAdjust="spacingAndGlyphs" >4</text>
<line x1="671.9" y1="207.2" x2="671.9" y2="213.7" stroke="#111" stroke-width="1.5" />
<text x="671.9" y="230.1" font-size="12" font-weight="bold" text-anchor="middle" fill="#111" textLength="7" lengthAdjust="spacingAndGlyphs" >6</text>
<line x1="704.2" y1="207.2" x2="704.2" y2="213.7" stroke="#111" stroke-width="1.5" />
<text x="704.2" y="230.1" font-size="12" font-weight="bold" text-anchor="middle" fill="#111" textLength="7" lengthAdjust="spacingAndGlyphs" >8</text>
<line x1="736.4" y1="207.2" x2="736.4" y2="213.7" stroke="#111" stroke-width="1.5" />
<text x="736.4" y="230.1" font-size="12" font-weight="bold" text-anchor="middle" fill="#111" textLength="14.4" lengthAdjust="spacingAndGlyphs" >10</text>
<line x1="768.6" y1="207.2" x2="768.6" y2="213.7" stroke="#111" stroke-width="1.5" />
<text x="768.6" y="230.1" font-size="12" font-weight="bold" text-anchor="middle" fill="#111" textLength="14.4" lengthAdjust="spacingAndGlyphs" >12</text>
<line x1="800.9" y1="207.2" x2="800.9" y2="213.7" stroke="#111" stroke-width="1.5" />
<text x="800.9" y="230.1" font-size="12" font-weight="bold" text-anchor="middle" fill="#111" textLength="14.4" lengthAdjust="spacingAndGlyphs" >14</text>
<line x1="833.1" y1="207.2" x2="833.1" y2="213.7" stroke="#111" stroke-width="1.5" />
<text x="833.1" y="230.1" font-size="12" font-weight="bold" text-anchor="middle" fill="#111" textLength="14.4" lengthAdjust="spacingAndGlyphs" >16</text>
<text x="713.1" y="252.2" font-size="14.5" font-weight="bold" text-anchor="middle" fill="#111" textLength="55.6" lengthAdjust="spacingAndGlyphs" >Time (d)</text>
<text transform="translate(526.4,116.4) rotate(-90)" font-size="14" font-weight="bold" text-anchor="middle" fill="#111" textLength="148" lengthAdjust="spacingAndGlyphs">Tumor Volume (mm<tspan font-size="8.5" dy="-5">3</tspan><tspan dy="5">)</tspan></text>
<line x1="586.7" y1="39.2" x2="606.5" y2="39.2" stroke="#8c1748" stroke-width="2" />
<circle cx="596.6" cy="39.2" r="2.6" fill="#8c1748"/>
<text x="617.8" y="43.6" font-size="12.5" font-weight="bold" text-anchor="start" fill="#111" textLength="18" lengthAdjust="spacingAndGlyphs" >Ctr</text>
<line x1="586.7" y1="54.8" x2="606.5" y2="54.8" stroke="#c4156e" stroke-width="2" />
<path d="M596.6,52.4 L598.5,54.8 L596.6,57.2 L594.7,54.8Z" fill="#c4156e"/>
<text x="617.8" y="59.199999999999996" font-size="12.5" font-weight="bold" text-anchor="start" fill="#111" textLength="22" lengthAdjust="spacingAndGlyphs" >TPZ</text>
<line x1="586.7" y1="71.1" x2="606.5" y2="71.1" stroke="#f39a1f" stroke-width="2" />
<rect x="594.0" y="68.5" width="5.2" height="5.2" fill="#f39a1f"/>
<text x="617.8" y="75.5" font-size="12.5" font-weight="bold" text-anchor="start" fill="#111" textLength="17.2" lengthAdjust="spacingAndGlyphs" >UB</text>
<line x1="586.7" y1="85.5" x2="606.5" y2="85.5" stroke="#1b1b96" stroke-width="2" />
<path d="M594.0,83.4 L599.2,83.4 L596.6,88.1Z" fill="#1b1b96"/>
<text x="617.8" y="89.9" font-size="12.5" font-weight="bold" text-anchor="start" fill="#111" textLength="17.2" lengthAdjust="spacingAndGlyphs" >DB</text>
<line x1="586.7" y1="101.8" x2="606.5" y2="101.8" stroke="#3c7b78" stroke-width="2" />
<circle cx="596.6" cy="101.8" r="2.6" fill="#3c7b78"/>
<text x="617.8" y="106.2" font-size="12.5" font-weight="bold" text-anchor="start" fill="#111" textLength="47.5" lengthAdjust="spacingAndGlyphs" >DB+TPZ</text>
<text x="587" y="140.2" font-size="17"  text-anchor="start" fill="#111" textLength="80" lengthAdjust="spacingAndGlyphs" >Anti-tumor</text>
<text x="587" y="161.4" font-size="17"  text-anchor="start" fill="#111" textLength="60" lengthAdjust="spacingAndGlyphs" >efficacy</text>
<path d="M809.8,53.8 V75.5 M809.8,67.3 H821.3 V167.6 H809.8" fill="none" stroke="#111" stroke-width="1.5"/>
<path d="M833.7,54.6 V166.8 M833.7,100.1 H845.2 V201.1 H805.2" fill="none" stroke="#111" stroke-width="1.5"/>
<text transform="translate(808.4,109.5) rotate(90)" font-size="12" text-anchor="middle" fill="#222" letter-spacing="1.5">***</text>
<text transform="translate(832.1,134.8) rotate(90)" font-size="12" text-anchor="middle" fill="#222" letter-spacing="1.5">***</text>
</g>
<g id="line2">
<line x1="663.5" y1="448.6" x2="663.5" y2="453.0" stroke="#c0125f" stroke-width="1.5" />
<line x1="661.1" y1="448.6" x2="665.9" y2="448.6" stroke="#c0125f" stroke-width="1.5" />
<line x1="661.1" y1="453.0" x2="665.9" y2="453.0" stroke="#c0125f" stroke-width="1.5" />
<line x1="681.8" y1="441.3" x2="681.8" y2="447.3" stroke="#c0125f" stroke-width="1.5" />
<line x1="679.4" y1="441.3" x2="684.2" y2="441.3" stroke="#c0125f" stroke-width="1.5" />
<line x1="679.4" y1="447.3" x2="684.2" y2="447.3" stroke="#c0125f" stroke-width="1.5" />
<line x1="700.1" y1="431.5" x2="700.1" y2="439.9" stroke="#c0125f" stroke-width="1.5" />
<line x1="697.7" y1="431.5" x2="702.5" y2="431.5" stroke="#c0125f" stroke-width="1.5" />
<line x1="697.7" y1="439.9" x2="702.5" y2="439.9" stroke="#c0125f" stroke-width="1.5" />
<line x1="718.4" y1="419.6" x2="718.4" y2="430.6" stroke="#c0125f" stroke-width="1.5" />
<line x1="716.0" y1="419.6" x2="720.8" y2="419.6" stroke="#c0125f" stroke-width="1.5" />
<line x1="716.0" y1="430.6" x2="720.8" y2="430.6" stroke="#c0125f" stroke-width="1.5" />
<line x1="736.7" y1="406.3" x2="736.7" y2="421.3" stroke="#c0125f" stroke-width="1.5" />
<line x1="734.3" y1="406.3" x2="739.1" y2="406.3" stroke="#c0125f" stroke-width="1.5" />
<line x1="734.3" y1="421.3" x2="739.1" y2="421.3" stroke="#c0125f" stroke-width="1.5" />
<line x1="755.0" y1="388.6" x2="755.0" y2="408.6" stroke="#c0125f" stroke-width="1.5" />
<line x1="752.6" y1="388.6" x2="757.4" y2="388.6" stroke="#c0125f" stroke-width="1.5" />
<line x1="752.6" y1="408.6" x2="757.4" y2="408.6" stroke="#c0125f" stroke-width="1.5" />
<line x1="773.3" y1="374.7" x2="773.3" y2="394.7" stroke="#c0125f" stroke-width="1.5" />
<line x1="770.9" y1="374.7" x2="775.7" y2="374.7" stroke="#c0125f" stroke-width="1.5" />
<line x1="770.9" y1="394.7" x2="775.7" y2="394.7" stroke="#c0125f" stroke-width="1.5" />
<line x1="791.6" y1="359.0" x2="791.6" y2="379.0" stroke="#c0125f" stroke-width="1.5" />
<line x1="789.2" y1="359.0" x2="794.0" y2="359.0" stroke="#c0125f" stroke-width="1.5" />
<line x1="789.2" y1="379.0" x2="794.0" y2="379.0" stroke="#c0125f" stroke-width="1.5" />
<line x1="809.9" y1="331.5" x2="809.9" y2="356.1" stroke="#c0125f" stroke-width="1.5" />
<line x1="807.5" y1="331.5" x2="812.3" y2="331.5" stroke="#c0125f" stroke-width="1.5" />
<line x1="807.5" y1="356.1" x2="812.3" y2="356.1" stroke="#c0125f" stroke-width="1.5" />
<line x1="828.2" y1="301.2" x2="828.2" y2="332.4" stroke="#c0125f" stroke-width="1.5" />
<line x1="825.8" y1="301.2" x2="830.6" y2="301.2" stroke="#c0125f" stroke-width="1.5" />
<line x1="825.8" y1="332.4" x2="830.6" y2="332.4" stroke="#c0125f" stroke-width="1.5" />
<polyline points="590.4,468.9 608.7,467.3 627.0,462.1 645.3,458.3 663.5,450.8 681.8,444.3 700.1,435.7 718.4,425.1 736.7,413.8 755.0,398.6 773.3,384.7 791.6,369.0 809.9,343.8 828.2,316.8" fill="none" stroke="#c0125f" stroke-width="2" stroke-linejoin="round"/>
<circle cx="590.4" cy="468.9" r="2.6" fill="#c0125f"/>
<circle cx="608.7" cy="467.3" r="2.6" fill="#c0125f"/>
<circle cx="627.0" cy="462.1" r="2.6" fill="#c0125f"/>
<circle cx="645.3" cy="458.3" r="2.6" fill="#c0125f"/>
<circle cx="663.5" cy="450.8" r="2.6" fill="#c0125f"/>
<circle cx="681.8" cy="444.3" r="2.6" fill="#c0125f"/>
<circle cx="700.1" cy="435.7" r="2.6" fill="#c0125f"/>
<circle cx="718.4" cy="425.1" r="2.6" fill="#c0125f"/>
<circle cx="736.7" cy="413.8" r="2.6" fill="#c0125f"/>
<circle cx="755.0" cy="398.6" r="2.6" fill="#c0125f"/>
<circle cx="773.3" cy="384.7" r="2.6" fill="#c0125f"/>
<circle cx="791.6" cy="369.0" r="2.6" fill="#c0125f"/>
<circle cx="809.9" cy="343.8" r="2.6" fill="#c0125f"/>
<circle cx="828.2" cy="316.8" r="2.6" fill="#c0125f"/>
<rect x="572.1" y="290.4" width="274.8" height="182.2" fill="none" stroke="#111" stroke-width="1.5"/>
<line x1="572.1" y1="472.6" x2="572.1" y2="478.6" stroke="#111" stroke-width="1.5" />
<text x="572.1" y="495.9" font-size="12" font-weight="bold" text-anchor="middle" fill="#111" textLength="7" lengthAdjust="spacingAndGlyphs" >0</text>
<line x1="627.0" y1="472.6" x2="627.0" y2="478.6" stroke="#111" stroke-width="1.5" />
<text x="627.0" y="495.9" font-size="12" font-weight="bold" text-anchor="middle" fill="#111" textLength="7" lengthAdjust="spacingAndGlyphs" >3</text>
<line x1="681.8" y1="472.6" x2="681.8" y2="478.6" stroke="#111" stroke-width="1.5" />
<text x="681.8" y="495.9" font-size="12" font-weight="bold" text-anchor="middle" fill="#111" textLength="7" lengthAdjust="spacingAndGlyphs" >6</text>
<line x1="736.7" y1="472.6" x2="736.7" y2="478.6" stroke="#111" stroke-width="1.5" />
<text x="736.7" y="495.9" font-size="12" font-weight="bold" text-anchor="middle" fill="#111" textLength="7" lengthAdjust="spacingAndGlyphs" >9</text>
<line x1="791.6" y1="472.6" x2="791.6" y2="478.6" stroke="#111" stroke-width="1.5" />
<text x="791.6" y="495.9" font-size="12" font-weight="bold" text-anchor="middle" fill="#111" textLength="14.4" lengthAdjust="spacingAndGlyphs" >12</text>
<line x1="846.5" y1="472.6" x2="846.5" y2="478.6" stroke="#111" stroke-width="1.5" />
<text x="846.5" y="495.9" font-size="12" font-weight="bold" text-anchor="middle" fill="#111" textLength="14.4" lengthAdjust="spacingAndGlyphs" >15</text>
<line x1="590.39" y1="472.6" x2="828.1600000000001" y2="472.6" stroke="#15158c" stroke-width="2" />
<rect x="587.9" y="470.1" width="5.0" height="5.0" fill="#15158c"/>
<rect x="606.2" y="470.1" width="5.0" height="5.0" fill="#15158c"/>
<rect x="624.5" y="470.1" width="5.0" height="5.0" fill="#15158c"/>
<rect x="642.8" y="470.1" width="5.0" height="5.0" fill="#15158c"/>
<rect x="661.0" y="470.1" width="5.0" height="5.0" fill="#15158c"/>
<rect x="679.3" y="470.1" width="5.0" height="5.0" fill="#15158c"/>
<rect x="697.6" y="470.1" width="5.0" height="5.0" fill="#15158c"/>
<rect x="715.9" y="470.1" width="5.0" height="5.0" fill="#15158c"/>
<rect x="734.2" y="470.1" width="5.0" height="5.0" fill="#15158c"/>
<rect x="752.5" y="470.1" width="5.0" height="5.0" fill="#15158c"/>
<rect x="770.8" y="470.1" width="5.0" height="5.0" fill="#15158c"/>
<rect x="789.1" y="470.1" width="5.0" height="5.0" fill="#15158c"/>
<rect x="807.4" y="470.1" width="5.0" height="5.0" fill="#15158c"/>
<rect x="825.7" y="470.1" width="5.0" height="5.0" fill="#15158c"/>
<line x1="564.6" y1="472.6" x2="572.1" y2="472.6" stroke="#111" stroke-width="1.5" />
<text x="561.6" y="476.90000000000003" font-size="12" font-weight="bold" text-anchor="end" fill="#111" textLength="7" lengthAdjust="spacingAndGlyphs" >0</text>
<line x1="564.6" y1="436.16" x2="572.1" y2="436.16" stroke="#111" stroke-width="1.5" />
<text x="561.6" y="440.46000000000004" font-size="12" font-weight="bold" text-anchor="end" fill="#111" textLength="21.5" lengthAdjust="spacingAndGlyphs" >200</text>
<line x1="564.6" y1="399.72" x2="572.1" y2="399.72" stroke="#111" stroke-width="1.5" />
<text x="561.6" y="404.02000000000004" font-size="12" font-weight="bold" text-anchor="end" fill="#111" textLength="21.5" lengthAdjust="spacingAndGlyphs" >400</text>
<line x1="564.6" y1="363.28" x2="572.1" y2="363.28" stroke="#111" stroke-width="1.5" />
<text x="561.6" y="367.58" font-size="12" font-weight="bold" text-anchor="end" fill="#111" textLength="21.5" lengthAdjust="spacingAndGlyphs" >600</text>
<line x1="564.6" y1="326.84000000000003" x2="572.1" y2="326.84000000000003" stroke="#111" stroke-width="1.5" />
<text x="561.6" y="331.14000000000004" font-size="12" font-weight="bold" text-anchor="end" fill="#111" textLength="21.5" lengthAdjust="spacingAndGlyphs" >800</text>
<line x1="564.6" y1="290.4" x2="572.1" y2="290.4" stroke="#111" stroke-width="1.5" />
<text x="561.6" y="294.7" font-size="12" font-weight="bold" text-anchor="end" fill="#111" textLength="28.6" lengthAdjust="spacingAndGlyphs" >1000</text>
<text x="709.5" y="517.5" font-size="14.5" font-weight="bold" text-anchor="middle" fill="#111" textLength="56" lengthAdjust="spacingAndGlyphs" >Time (d)</text>
<text transform="translate(522.8,380) rotate(-90)" font-size="14" font-weight="bold" text-anchor="middle" fill="#111" textLength="149" lengthAdjust="spacingAndGlyphs">Tumor Volume (mm<tspan font-size="8.5" dy="-5">3</tspan><tspan dy="5">)</tspan></text>
<line x1="593.5" y1="313.8" x2="612.6" y2="313.8" stroke="#c0125f" stroke-width="2" />
<circle cx="603.0" cy="313.8" r="2.5" fill="#c0125f"/>
<text x="624.4" y="318" font-size="12" font-weight="bold" text-anchor="start" fill="#111" textLength="47" lengthAdjust="spacingAndGlyphs" >Control</text>
<line x1="593.5" y1="333.2" x2="612.6" y2="333.2" stroke="#15158c" stroke-width="2" />
<rect x="600.6" y="330.8" width="4.8" height="4.8" fill="#15158c"/>
<text x="624.4" y="337.4" font-size="12" font-weight="bold" text-anchor="start" fill="#111" textLength="44.5" lengthAdjust="spacingAndGlyphs" >Battery</text>
<text x="587.5" y="383.7" font-size="17"  text-anchor="start" fill="#111" textLength="104" lengthAdjust="spacingAndGlyphs" >Prevention of</text>
<text x="587.5" y="405.4" font-size="17"  text-anchor="start" fill="#111" textLength="110" lengthAdjust="spacingAndGlyphs" >tumorigenesis</text>
</g>
<g id="us"><clipPath id="uc1"><rect x="36.4" y="289.6" width="108.9" height="89.8"/></clipPath>
<g clip-path="url(#uc1)"><rect x="35.4" y="288.6" width="110.9" height="91.8" fill="#060606"/>
<path d="M30,308 Q55,300 72,296 Q92,288 112,296 Q132,308 150,322 L150,385 L30,385Z" fill="#6e6e6e" filter="url(#b2)" opacity="1"/>
<path d="M30,312 Q56,304 74,298 Q94,290 112,298 Q132,310 150,326 L150,338 Q126,318 108,312 Q92,308 76,314 Q56,322 30,334Z" fill="#f2f2f2" filter="url(#b2)" opacity="1"/>
<path d="M34,308 L62,302 L62,322 L34,330Z" fill="#e8e8e8" filter="url(#b3)" opacity="1"/>
<path d="M56,334 Q78,316 100,314 Q120,316 130,334 Q118,330 100,328 Q80,328 62,342Z" fill="#3a3a3a" filter="url(#b3)" opacity="1"/>
<path d="M34,322 L50,324 L54,348 L34,352Z" fill="#161616" filter="url(#b3)" opacity="1"/>
<path d="M72,370 L98,370 L98,384 L72,384Z" fill="#555" filter="url(#b3)" opacity="1"/>
<path d="M36,352 L54,348 L58,336 Q85,328 110,332 L132,336 L146,328 L146,380 L36,380Z" fill="#00f" filter="url(#spk)" opacity="1"/>
<path d="M66,300 Q94,288 120,302 L128,318 Q100,306 70,314Z" fill="#00f" filter="url(#spk)" opacity="1"/>
<path d="M36,308 L62,302 L64,318 L36,322Z" fill="#00f" filter="url(#spk2)" opacity="0.8"/>
<path d="M60,334 Q90,326 116,340 L112,364 L64,364Z" fill="#00f" filter="url(#spkp)" opacity="0.7"/>
<rect x="36.4" y="289.6" width="108.9" height="89.8" fill="#000" filter="url(#grain)" opacity="0.5" style="mix-blend-mode:overlay"/>
</g>
<clipPath id="uc2"><rect x="153.3" y="292.3" width="109.1" height="89.3"/></clipPath>
<g clip-path="url(#uc2)"><rect x="152.3" y="291.3" width="111.1" height="91.3" fill="#060606"/>
<path d="M150,332 Q175,316 195,303 Q215,293 240,299 L265,310 L265,385 L150,385Z" fill="#6c6c6c" filter="url(#b2)" opacity="1"/>
<path d="M150,334 Q176,316 196,304 Q216,294 240,301 L264,312 L264,322 Q232,310 214,313 Q194,320 176,336 L150,353Z" fill="#eaeaea" filter="url(#b2)" opacity="1"/>
<path d="M198,300 L238,300 L242,310 L202,312Z" fill="#f4f4f4" filter="url(#b2)" opacity="1"/>
<path d="M162,350 Q182,332 204,326 Q224,320 238,326 Q232,340 208,344 Q186,348 164,362Z" fill="#3a3a3a" filter="url(#b3)" opacity="1"/>
<path d="M246,346 L264,344 L264,376 L246,374Z" fill="#1c1c1c" filter="url(#b3)" opacity="1"/>
<path d="M153,354 Q190,348 215,346 L234,324 L240,310 L262,314 L262,382 L153,382Z" fill="#00f" filter="url(#spk)" opacity="1"/>
<path d="M198,298 L234,298 L238,312 L200,314Z" fill="#00f" filter="url(#spk2)" opacity="1"/>
<path d="M153,318 L196,308 L190,326 L153,344Z" fill="#00f" filter="url(#spk2)" opacity="1"/>
<path d="M180,328 L232,320 L230,336 L186,344Z" fill="#00f" filter="url(#spk2)" opacity="0.6"/>
<rect x="153.3" y="292.3" width="109.1" height="89.3" fill="#000" filter="url(#grain)" opacity="0.5" style="mix-blend-mode:overlay"/>
</g>
<clipPath id="uc3"><rect x="271.2" y="292.3" width="109.1" height="89.3"/></clipPath>
<g clip-path="url(#uc3)"><rect x="270.2" y="291.3" width="111.1" height="91.3" fill="#060606"/>
<path d="M268,345 Q276,318 298,306 Q325,298 352,304 Q372,310 384,322 L384,385 L268,385Z" fill="#787878" filter="url(#b2)" opacity="1"/>
<path d="M268,340 Q278,316 300,305 Q326,298 352,304 Q372,311 384,324 L384,334 Q366,318 346,313 Q322,309 302,316 Q286,326 278,350 L268,362Z" fill="#dadada" filter="url(#b2)" opacity="1"/>
<path d="M268,338 L278,320 L284,323 L277,348 L268,360Z" fill="#ececec" filter="url(#b2)" opacity="0.8"/>
<path d="M296,326 Q312,318 330,324 Q334,340 320,350 Q302,354 294,344Z" fill="#333" filter="url(#b3)" opacity="1"/>
<path d="M334,322 Q352,318 366,328 Q368,342 352,344 Q338,340 334,322Z" fill="#3c3c3c" filter="url(#b3)" opacity="1"/>
<path d="M276,352 L294,350 L296,368 L276,374Z" fill="#4a4a4a" filter="url(#b3)" opacity="1"/>
<path d="M300,352 L336,348 L340,358 L304,362Z" fill="#a0a0a0" filter="url(#b3)" opacity="0.7"/>
<path d="M271,382 L276,374 L296,364 Q320,350 345,354 L380,328 L380,382Z" fill="#00f" filter="url(#spk)" opacity="1"/>
<path d="M364,298 L380,296 L380,330 L366,326Z" fill="#00f" filter="url(#spk2)" opacity="1"/>
<path d="M312,308 L378,312 L378,326 L316,324Z" fill="#00f" filter="url(#spk2)" opacity="0.75"/>
<rect x="271.2" y="292.3" width="109.1" height="89.3" fill="#000" filter="url(#grain)" opacity="0.5" style="mix-blend-mode:overlay"/>
</g>
<clipPath id="uc4"><rect x="389.3" y="292.3" width="109.1" height="89.3"/></clipPath>
<g clip-path="url(#uc4)"><rect x="388.3" y="291.3" width="111.1" height="91.3" fill="#060606"/>
<path d="M386,326 Q392,308 410,299 Q440,292 472,296 Q490,304 500,326 L500,385 L386,385Z" fill="#767676" filter="url(#b2)" opacity="1"/>
<path d="M386,324 Q394,306 412,299 Q440,293 472,297 Q490,305 500,328 L500,350 Q486,316 466,306 Q440,302 416,308 Q400,316 394,340 L386,348Z" fill="#a4a4a4" filter="url(#b2)" opacity="1"/>
<path d="M408,314 Q440,304 474,312 Q488,324 482,336 Q444,320 412,338 Q402,328 408,314Z" fill="#303030" filter="url(#b5)" opacity="1"/>
<path d="M416,366 Q440,352 466,364 Q464,380 440,382 Q418,380 416,366Z" fill="#1e1e1e" filter="url(#b3)" opacity="1"/>
<path d="M389,342 L404,346 L404,364 L389,366Z" fill="#4a4a4a" filter="url(#b3)" opacity="1"/>
<path d="M474,338 L496,344 L496,356 L476,352Z" fill="#c0c0c0" filter="url(#b3)" opacity="0.8"/>
<path d="M406,350 Q445,326 492,346 L498,362 L498,378 L470,374 Q445,350 418,372 L408,366Z" fill="#00f" filter="url(#spk)" opacity="1"/>
<path d="M389,318 L404,318 L408,346 L389,346Z" fill="#00f" filter="url(#spk2)" opacity="0.85"/>
<path d="M389,364 L414,368 L414,382 L389,382Z" fill="#00f" filter="url(#spk2)" opacity="1"/>
<path d="M418,304 L440,302 L440,310 L418,312Z" fill="#00f" filter="url(#spkp)" opacity="1"/>
<path d="M450,338 Q475,340 490,358 L486,370 L456,356Z" fill="#00f" filter="url(#spkp)" opacity="0.75"/>
<path d="M412,306 L450,304 L452,314 L414,318Z" fill="#00f" filter="url(#spk2)" opacity="0.6"/>
<rect x="389.3" y="292.3" width="109.1" height="89.3" fill="#000" filter="url(#grain)" opacity="0.5" style="mix-blend-mode:overlay"/>
</g>
<clipPath id="uc5"><rect x="36.4" y="397.2" width="108.9" height="89.2"/></clipPath>
<g clip-path="url(#uc5)"><rect x="35.4" y="396.2" width="110.9" height="91.2" fill="#060606"/>
<path d="M32,418 Q50,404 90,401 Q128,403 150,422 L150,490 L32,490Z" fill="#5c5c5c" filter="url(#b2)" opacity="1"/>
<path d="M32,418 Q50,404 90,401 Q128,403 150,422 L150,431 Q126,412 90,410 Q54,412 32,430Z" fill="#ececec" filter="url(#b2)" opacity="1"/>
<path d="M72,414 L124,414 L114,436 L88,442Z" fill="#8c8c8c" filter="url(#b2)" opacity="1"/>
<path d="M38,456 L64,452 L68,482 L38,484Z" fill="#808080" filter="url(#b3)" opacity="1"/>
<path d="M110,462 L146,458 L146,482 L112,484Z" fill="#7c7c7c" filter="url(#b3)" opacity="1"/>
<path d="M36,424 L70,416 L86,444 L112,440 L126,416 L145,424 L145,487 L36,487Z" fill="#00f" filter="url(#spk3)" opacity="1"/>
<path d="M36,424 L70,416 L86,444 L112,440 L126,416 L145,424 L145,487 L36,487Z" fill="#00f" filter="url(#spk2)" opacity="0.45"/>
<path d="M62,404 L124,404 L126,414 L62,414Z" fill="#00f" filter="url(#spk2)" opacity="0.8"/>
<path d="M100,424 L140,426 L140,440 L104,444Z" fill="#00f" filter="url(#spkp)" opacity="0.4"/>
<path d="M48,432 L98,470 M58,442 L90,468 M118,436 L96,462" stroke="#e8e8f6" stroke-width="2" opacity="0.65" filter="url(#b1)"/>
<rect x="36.4" y="397.2" width="108.9" height="89.2" fill="#000" filter="url(#grain)" opacity="0.5" style="mix-blend-mode:overlay"/>
</g>
<clipPath id="uc6"><rect x="153.3" y="397.2" width="109.1" height="89.2"/></clipPath>
<g clip-path="url(#uc6)"><rect x="152.3" y="396.2" width="111.1" height="91.2" fill="#060606"/>
<path d="M150,446 Q180,424 208,402 Q232,404 265,420 L265,490 L150,490Z" fill="#7c7c7c" filter="url(#b2)" opacity="1"/>
<path d="M150,448 Q180,424 208,402 Q234,404 265,422 L265,430 Q240,420 226,418 L208,418 Q182,434 150,464Z" fill="#d6d6d6" filter="url(#b2)" opacity="1"/>
<path d="M150,450 Q180,426 204,408 L208,416 Q182,436 150,466Z" fill="#f2f2f2" filter="url(#b2)" opacity="0.8"/>
<path d="M202,430 Q214,424 224,432 Q220,454 214,490 L166,490 Q182,458 202,430Z" fill="#404040" filter="url(#b3)" opacity="1"/>
<path d="M153,444 L198,428 L184,458 L166,482 L153,484Z" fill="#00f" filter="url(#spk)" opacity="1"/>
<path d="M228,428 L262,430 L262,468 L226,466 L222,444Z" fill="#00f" filter="url(#spk3)" opacity="0.9"/>
<path d="M200,466 L256,464 L256,484 L200,486Z" fill="#00f" filter="url(#spk2)" opacity="0.7"/>
<rect x="153.3" y="397.2" width="109.1" height="89.2" fill="#000" filter="url(#grain)" opacity="0.5" style="mix-blend-mode:overlay"/>
</g>
<clipPath id="uc7"><rect x="271.2" y="397.2" width="109.1" height="89.2"/></clipPath>
<g clip-path="url(#uc7)"><rect x="270.2" y="396.2" width="111.1" height="91.2" fill="#060606"/>
<path d="M268,432 Q274,410 296,401 L348,400 Q370,404 384,422 L384,490 L268,490Z" fill="#585858" filter="url(#b2)" opacity="1"/>
<path d="M268,430 Q276,408 298,401 L348,400 Q370,404 384,424 L384,432 Q366,412 346,408 L300,408 Q286,414 280,436 L268,448Z" fill="#aaaaaa" filter="url(#b2)" opacity="1"/>
<path d="M268,428 L280,410 L288,414 L280,436 L268,446Z" fill="#dcdcdc" filter="url(#b2)" opacity="0.8"/>
<path d="M294,410 L364,412 L368,432 L294,428Z" fill="#848484" filter="url(#b3)" opacity="1"/>
<path d="M288,432 L364,438 L366,458 L288,446Z" fill="#242424" filter="url(#b3)" opacity="1"/>
<path d="M294,462 L366,472 L366,492 L294,492Z" fill="#1c1c1c" filter="url(#b3)" opacity="1"/>
<path d="M366,424 L382,428 L382,460 L368,456Z" fill="#909090" filter="url(#b3)" opacity="1"/>
<path d="M271,430 L288,434 L294,446 L380,468 L380,482 L330,472 L300,460 L298,487 L271,487Z" fill="#00f" filter="url(#spk3)" opacity="1"/>
<path d="M306,436 L350,440 L350,450 L308,446Z" fill="#00f" filter="url(#spk3)" opacity="0.9"/>
<path d="M350,414 L368,416 L368,424 L352,422Z" fill="#00f" filter="url(#spk2)" opacity="0.7"/>
<path d="M292,443 L350,457" stroke="#f0f0f0" stroke-width="1.8" opacity="0.85" filter="url(#b1)"/>
<rect x="271.2" y="397.2" width="109.1" height="89.2" fill="#000" filter="url(#grain)" opacity="0.5" style="mix-blend-mode:overlay"/>
</g>
<clipPath id="uc8"><rect x="389.8" y="397.2" width="108.6" height="89.2"/></clipPath>
<g clip-path="url(#uc8)"><rect x="388.8" y="396.2" width="110.6" height="91.2" fill="#060606"/>
<path d="M386,438 L402,434 Q404,420 420,420 L466,420 Q482,426 500,446 L500,490 L386,490Z" fill="#707070" filter="url(#b2)" opacity="1"/>
<path d="M386,440 L402,436 Q404,421 420,421 L466,421 Q482,427 500,448 L500,455 Q480,433 464,429 L420,429 Q408,431 404,445 L386,449Z" fill="#c8c8c8" filter="url(#b2)" opacity="1"/>
<path d="M406,430 L468,430 L470,462 L406,464Z" fill="#121212" filter="url(#b3)" opacity="1"/>
<path d="M406,460 L424,462 L424,488 L408,488Z" fill="#2c2c2c" filter="url(#b3)" opacity="1"/>
<path d="M474,444 L498,452 L498,486 L476,486Z" fill="#8e8e8e" filter="url(#b3)" opacity="1"/>
<path d="M389,448 L404,452 L404,486 L389,486Z" fill="#8a8a8a" filter="url(#b3)" opacity="1"/>
<path d="M426,462 L470,462 L472,488 L428,488Z" fill="#808080" filter="url(#b3)" opacity="0.8"/>
<path d="M428,466 L468,466 L470,478 L428,478Z" fill="#00f" filter="url(#spk3)" opacity="0.75"/>
<path d="M389,434 L410,436 L412,446 L389,446Z" fill="#00f" filter="url(#spk3)" opacity="0.8"/>
<rect x="389.8" y="397.2" width="108.6" height="89.2" fill="#000" filter="url(#grain)" opacity="0.45" style="mix-blend-mode:overlay"/>
</g>
<text x="82.3" y="280.6" font-size="18.5" text-anchor="middle" fill="#111" textLength="46" lengthAdjust="spacingAndGlyphs">day 0</text>
<text x="203.3" y="280.6" font-size="18.5" text-anchor="middle" fill="#111" textLength="43.5" lengthAdjust="spacingAndGlyphs">day 1</text>
<text x="322" y="280.6" font-size="18.5" text-anchor="middle" fill="#111" textLength="44.5" lengthAdjust="spacingAndGlyphs">day 7</text>
<text x="437" y="280.6" font-size="18.5" text-anchor="middle" fill="#111" textLength="55" lengthAdjust="spacingAndGlyphs">day 14</text>
<text transform="translate(24,339.5) rotate(-90)" font-size="18" text-anchor="middle" fill="#111" textLength="24.7" lengthAdjust="spacingAndGlyphs">Ctr</text>
<text transform="translate(24.8,443.5) rotate(-90)" font-size="18" text-anchor="middle" fill="#111" textLength="23.5" lengthAdjust="spacingAndGlyphs">DB</text>
<linearGradient id="cbar" x1="0" y1="0" x2="1" y2="0"><stop offset="0" stop-color="#000"/><stop offset="0.10" stop-color="#020208"/><stop offset="0.22" stop-color="#0a1240"/><stop offset="0.35" stop-color="#13308c"/><stop offset="0.5" stop-color="#1c40a6"/><stop offset="0.62" stop-color="#5a72c8"/><stop offset="0.72" stop-color="#b8c3ea"/><stop offset="0.79" stop-color="#ffffff"/><stop offset="0.87" stop-color="#f8b4b4"/><stop offset="0.95" stop-color="#ea3030"/><stop offset="1" stop-color="#e01818"/></linearGradient>
<rect x="172.4" y="503.2" width="276.8" height="11.6" fill="url(#cbar)" stroke="#111" stroke-width="1"/>
<text x="66.2" y="514.8" font-size="18" fill="#111" textLength="65.6" lengthAdjust="spacingAndGlyphs">sO<tspan font-size="11" dy="4.5">2</tspan><tspan dy="-4.5"> (%)</tspan></text>
<text x="154" y="515.8" font-size="18" fill="#111">0</text>
<text x="457.6" y="515.8" font-size="18" fill="#111" textLength="27.2" lengthAdjust="spacingAndGlyphs">100</text></g>
</svg></body></html>
